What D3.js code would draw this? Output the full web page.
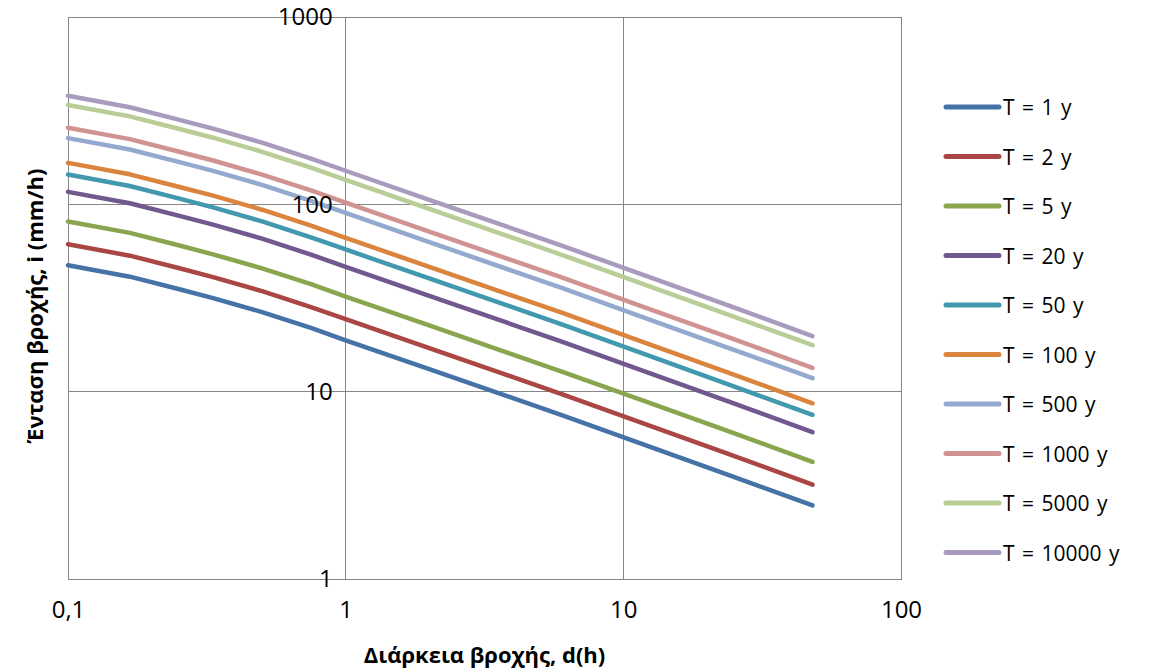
<!DOCTYPE html>
<html>
<head>
<meta charset="utf-8">
<script src="https://cdn.jsdelivr.net/npm/d3@7"></script>
<style>
  html, body { margin: 0; padding: 0; background: #fff; }
  svg { display: block; font-family: "Open Sans", "Noto Sans", sans-serif; }
</style>
</head>
<body>
<svg id="chart" width="1155" height="671"></svg>
<script>
// Durations (h)
const durations = [0.1, 0.167, 0.25, 0.333, 0.5, 0.75, 1, 2, 6, 12, 24, 48];
// Return periods
const seriesNames = ["T = 1 y", "T = 2 y", "T = 5 y", "T = 20 y", "T = 50 y",
  "T = 100 y", "T = 500 y", "T = 1000 y", "T = 5000 y", "T = 10000 y"];
// Intensities (mm/h)
const iT1     = [47.3, 41.1, 35.3, 31.6, 26.6, 21.9, 18.8, 13.2, 7.50, 5.18, 3.59, 2.47];
const iT2     = [61.2, 53.2, 45.7, 40.9, 34.4, 28.3, 24.4, 17.1, 9.70, 6.71, 4.64, 3.19];
const iT5     = [81.0, 70.4, 60.5, 54.1, 45.5, 37.5, 32.2, 22.6, 12.8, 8.88, 6.14, 4.22];
const iT20    = [116.6, 101.3, 87.0, 77.9, 65.6, 53.9, 46.4, 32.5, 18.5, 12.8, 8.85, 6.08];
const iT50    = [144.2, 125.3, 107.6, 96.4, 81.1, 66.7, 57.4, 40.2, 22.9, 15.8, 10.9, 7.52];
const iT100   = [166.4, 144.6, 124.2, 111.2, 93.6, 76.9, 66.2, 46.4, 26.4, 18.2, 12.6, 8.67];
const iT500   = [225.7, 196.1, 168.5, 150.8, 126.9, 104.4, 89.9, 62.9, 35.8, 24.7, 17.1, 11.8];
const iT1000  = [256.5, 222.9, 191.5, 171.4, 144.2, 118.6, 102.1, 71.5, 40.7, 28.1, 19.5, 13.4];
const iT5000  = [339.3, 294.9, 253.3, 226.8, 190.8, 156.9, 135.1, 94.5, 53.8, 37.2, 25.7, 17.7];
const iT10000 = [379.5, 329.8, 283.3, 253.6, 213.4, 175.5, 151.1, 105.7, 60.2, 41.6, 28.8, 19.8];
const seriesValues = [iT1, iT2, iT5, iT20, iT50, iT100, iT500, iT1000, iT5000, iT10000];
const colors = ["#4572A7", "#AA4643", "#89A54E", "#71588F", "#4198AF",
  "#DB843D", "#93A9CF", "#D19392", "#B9CD96", "#A99BBD"];
const xTicks = [0.1, 1, 10, 100];
const yTicks = [1, 10, 100, 1000];
const xTitle = "Διάρκεια βροχής, d(h)";
const yTitle = "Ένταση βροχής, i (mm/h)";

const svg = d3.select("#chart");
const L = 68, R = 901, T = 17, B = 579;
const x = d3.scaleLog().domain([0.1, 100]).range([L, R]);
const y = d3.scaleLog().domain([1, 1000]).range([B, T]);
const gridColor = "#868686";

// gridlines
svg.append("g").selectAll("line.v").data(xTicks.slice(1, -1)).join("line")
  .attr("x1", d => x(d)).attr("x2", d => x(d)).attr("y1", T).attr("y2", B)
  .attr("stroke", gridColor).attr("stroke-width", 1).attr("shape-rendering", "crispEdges");
svg.append("g").selectAll("line.h").data(yTicks.slice(1, -1)).join("line")
  .attr("x1", L).attr("x2", R).attr("y1", d => y(d)).attr("y2", d => y(d))
  .attr("stroke", gridColor).attr("stroke-width", 1).attr("shape-rendering", "crispEdges");
svg.append("rect").attr("x", L).attr("y", T).attr("width", R - L).attr("height", B - T)
  .attr("fill", "none").attr("stroke", gridColor).attr("stroke-width", 1)
  .attr("shape-rendering", "crispEdges");

// series lines
const line = d3.line().x(d => x(d[0])).y(d => y(d[1]));
seriesValues.forEach((vals, k) => {
  svg.append("path")
    .datum(durations.map((d, j) => [d, vals[j]]))
    .attr("d", line)
    .attr("fill", "none")
    .attr("stroke", colors[k])
    .attr("stroke-width", 4.5)
    .attr("stroke-linecap", "round")
    .attr("stroke-linejoin", "round");
});

// x axis labels
const xAxis = d3.axisBottom(x).tickValues(xTicks).tickSize(0).tickPadding(22)
  .tickFormat(d => String(d).replace(".", ","));
const gx = svg.append("g").attr("transform", `translate(0,${B})`).call(xAxis);
gx.select(".domain").remove();
gx.selectAll("text").attr("font-size", 24).attr("fill", "#000")
  .attr("font-family", "'Open Sans', sans-serif");

// y axis labels (axis crosses at x = 1)
const yAxis = d3.axisLeft(y).tickValues(yTicks).tickSize(0).tickPadding(13)
  .tickFormat(d3.format("d"));
const gy = svg.append("g").attr("transform", `translate(${x(1)},0)`).call(yAxis);
gy.select(".domain").remove();
gy.selectAll("text").attr("font-size", 24).attr("fill", "#000")
  .attr("font-family", "'Open Sans', sans-serif");

// axis titles
svg.append("text").attr("x", (L + R) / 2).attr("y", 663)
  .attr("text-anchor", "middle").attr("font-size", 22).attr("font-weight", "bold")
  .attr("fill", "#000").text(xTitle);
svg.append("text").attr("transform", `translate(34,${(T + B) / 2 + 8}) rotate(-90)`)
  .attr("text-anchor", "middle").attr("dominant-baseline", "central")
  .attr("font-size", 22).attr("font-weight", "bold")
  .attr("fill", "#000").text(yTitle);

// legend
const lg = svg.append("g");
seriesNames.forEach((name, k) => {
  const yy = 107 + k * 49.5;
  lg.append("line").attr("x1", 946).attr("x2", 999).attr("y1", yy).attr("y2", yy)
    .attr("stroke", colors[k]).attr("stroke-width", 5).attr("stroke-linecap", "round");
  lg.append("text").attr("x", 1003).attr("y", yy).attr("dominant-baseline", "central")
    .attr("font-size", 21).attr("word-spacing", 2).attr("fill", "#000").text(name);
});
</script>
</body>
</html>
